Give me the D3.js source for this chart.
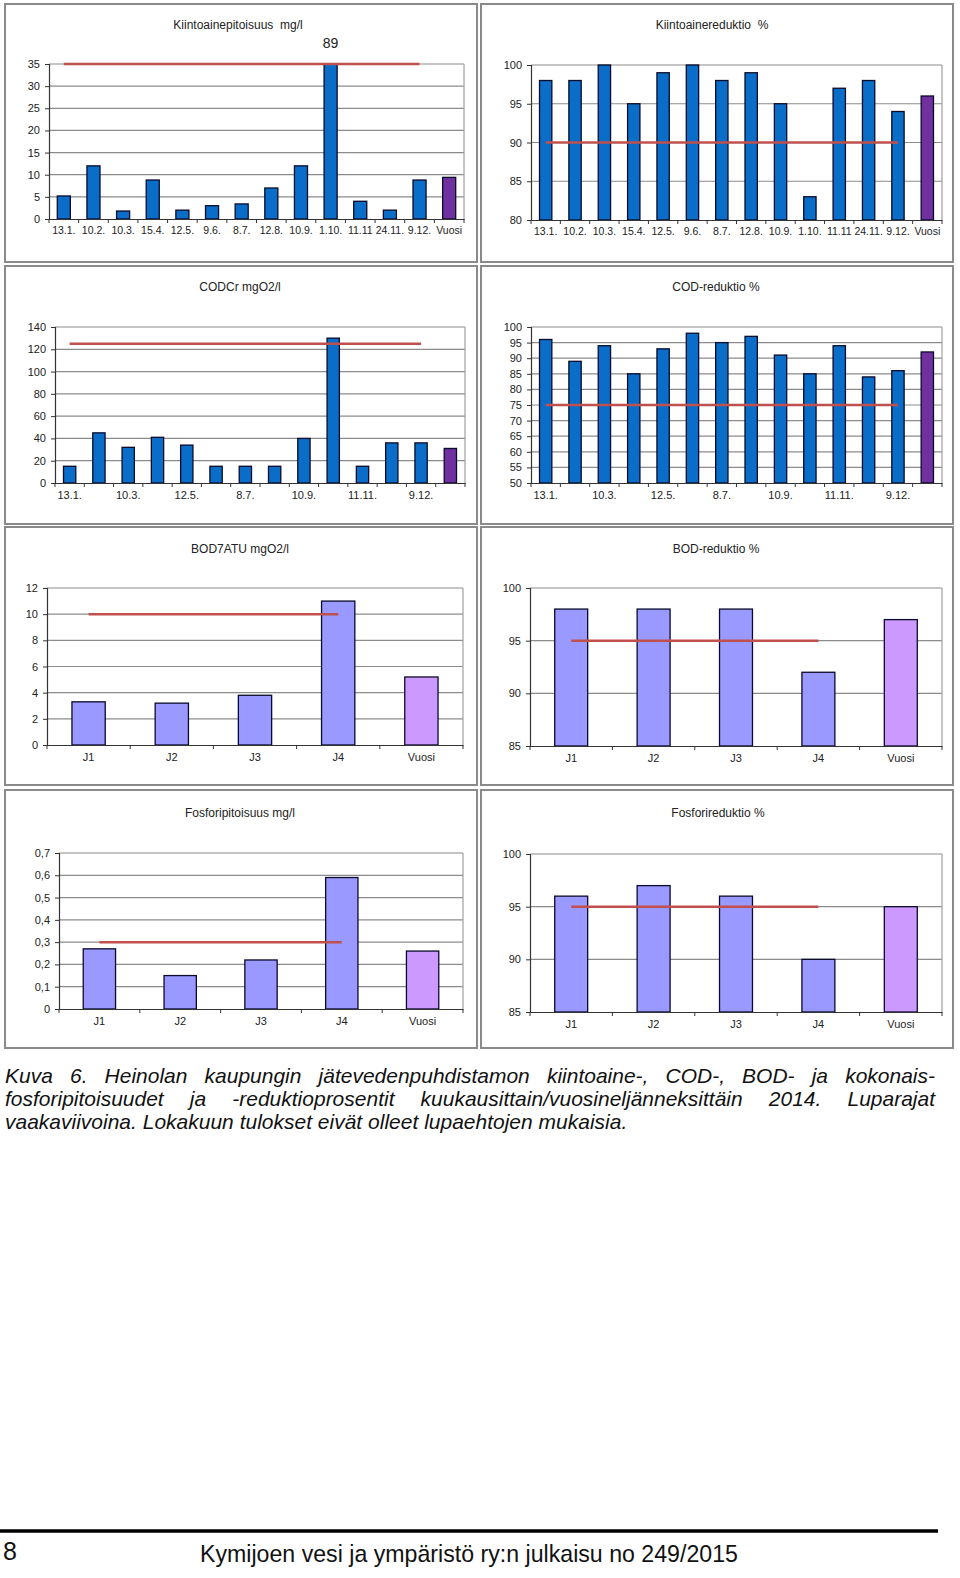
<!DOCTYPE html>
<html>
<head>
<meta charset="utf-8">
<script src="https://cdn.jsdelivr.net/npm/d3@7"></script>
<style>
  html, body { margin: 0; padding: 0; background: #fff; overflow: hidden; }
  svg { display: block; font-family: "Liberation Sans", Arial, sans-serif; }
</style>
</head>
<body>
<svg id="page" width="960" height="1578"></svg>
<script>
// categories
const monthCats = ["13.1.", "10.2.", "10.3.", "15.4.", "12.5.", "9.6.", "8.7.", "12.8.", "10.9.", "1.10.", "11.11", "24.11.", "9.12.", "Vuosi"];
const codLabels = ["13.1.", "", "10.3.", "", "12.5.", "", "8.7.", "", "10.9.", "", "11.11.", "", "9.12.", ""];
const quarterCats = ["J1", "J2", "J3", "J4", "Vuosi"];

// values
const kiintoaine = [5.2, 12, 1.8, 8.8, 2, 3, 3.4, 7, 12, 89, 4, 2, 8.8, 9.4];
const kiintoaineRed = [98, 98, 100, 95, 99, 100, 98, 99, 95, 83, 97, 98, 94, 96];
const codcr = [15, 45, 32, 41, 34, 15, 15, 15, 40, 130, 15, 36, 36, 31];
const codRed = [96, 89, 94, 85, 93, 98, 95, 97, 91, 85, 94, 84, 86, 92];
const bod = [3.3, 3.2, 3.8, 11, 5.2];
const bodRed = [98, 98, 98, 92, 97];
const fosfori = [0.27, 0.15, 0.22, 0.59, 0.26];
const fosforiRed = [96, 97, 96, 90, 95];

// permit limits (horizontal lines)
const limits = { kiintoaine: 35, kiintoaineRed: 90, codcr: 125, codRed: 75, bod: 10, bodRed: 95, fosfori: 0.3, fosforiRed: 95 };

// tick values
const ticksKiinto = d3.range(0, 36, 5);
const ticksKiintoRed = [80, 85, 90, 95, 100];
const ticksCod = d3.range(0, 141, 20);
const ticksCodRed = d3.range(50, 101, 5);
const ticksBod = d3.range(0, 13, 2);
const ticksRed85 = [85, 90, 95, 100];
const ticksFosfori = [0, 0.1, 0.2, 0.3, 0.4, 0.5, 0.6, 0.7];

const svg = d3.select("#page");
const fmtComma = d => d === 0 ? "0" : d3.format(".1f")(d).replace(".", ",");

function panel(p) {
  // frame
  svg.append("rect")
    .attr("x", p.frame[0]).attr("y", p.frame[1])
    .attr("width", p.frame[2]).attr("height", p.frame[3])
    .attr("fill", "#fff").attr("stroke", "#8a8a8a").attr("stroke-width", 2);

  svg.append("text")
    .attr("x", p.titleX).attr("y", p.titleY)
    .attr("text-anchor", "middle").attr("dominant-baseline", "central")
    .attr("font-size", 12).attr("fill", "#222")
    .attr("xml:space", "preserve")
    .text(p.title);

  const g = svg.append("g").attr("transform", `translate(${p.left}, ${p.top})`);
  const w = p.right - p.left;
  const h = p.bottom - p.top;

  const x = d3.scaleBand().domain(p.cats).range([0, w]).padding(0);
  const y = d3.scaleLinear().domain(p.domain).range([h, 0]).clamp(true);

  // grid
  g.selectAll("line.grid").data(p.ticks.slice(1)).enter().append("line")
    .attr("class", "grid")
    .attr("x1", 0).attr("x2", w)
    .attr("y1", d => y(d)).attr("y2", d => y(d))
    .attr("stroke", "#8c8c8c").attr("stroke-width", 1.2);
  g.append("line").attr("x1", w).attr("x2", w).attr("y1", 0).attr("y2", h)
    .attr("stroke", "#a0a0a0").attr("stroke-width", 1.2);

  // bars
  const bw = x.bandwidth() * p.barRatio;
  g.selectAll("rect.bar").data(p.values).enter().append("rect")
    .attr("class", "bar")
    .attr("x", (d, i) => x(p.cats[i]) + (x.bandwidth() - bw) / 2)
    .attr("y", d => y(d))
    .attr("width", bw)
    .attr("height", d => h - y(d))
    .attr("fill", (d, i) => i === p.values.length - 1 ? p.yearColor : p.color)
    .attr("stroke", "#0a0a2a").attr("stroke-width", 1.3);

  // limit line from first to second-to-last category
  const cFirst = p.cats[0], cLast = p.cats[p.cats.length - 2];
  g.append("line")
    .attr("x1", x(cFirst) + x.bandwidth() / 2)
    .attr("x2", x(cLast) + x.bandwidth() / 2)
    .attr("y1", y(p.limit)).attr("y2", y(p.limit))
    .attr("stroke", "#c0504d").attr("stroke-width", 2.5);

  // y axis
  const ya = g.append("g")
    .call(d3.axisLeft(y).tickValues(p.ticks).tickSize(4).tickPadding(5).tickFormat(p.fmt || (d => d)));
  ya.select(".domain").attr("stroke", "#333").attr("stroke-width", 1.2);
  ya.selectAll(".tick line").attr("stroke", "#333");
  ya.selectAll("text").attr("font-size", 11).attr("fill", "#222").attr("font-family", "Liberation Sans, Arial, sans-serif");

  // x axis
  const xa = g.append("g").attr("transform", `translate(0, ${h})`)
    .call(d3.axisBottom(x).tickSize(0).tickPadding(p.xPad || 8).tickFormat((d, i) => p.labels[i]));
  xa.select(".domain").attr("stroke", "#333").attr("stroke-width", 1.2);
  xa.selectAll("text").attr("font-size", p.xFont || 11).attr("fill", "#222").attr("font-family", "Liberation Sans, Arial, sans-serif");
  const bounds = p.cats.map(c => x(c)).concat([w]);
  xa.selectAll("line.tk").data(bounds).enter().append("line")
    .attr("class", "tk")
    .attr("x1", d => d).attr("x2", d => d).attr("y1", 0).attr("y2", 4)
    .attr("stroke", "#333");

  if (p.overLabel) {
    g.append("text")
      .attr("x", x(p.overLabel.cat) + x.bandwidth() / 2)
      .attr("y", -21)
      .attr("text-anchor", "middle").attr("dominant-baseline", "central")
      .attr("font-size", 14).attr("fill", "#222")
      .text(p.overLabel.text);
  }
}

const blue = "#0a6ec8", purple = "#7030a0", lilac = "#9999ff", pink = "#cc99ff";

panel({ frame: [5, 4, 472, 258], title: "Kiintoainepitoisuus  mg/l", titleX: 238, titleY: 25,
  left: 49, right: 464, top: 64, bottom: 219, cats: monthCats, labels: monthCats, values: kiintoaine,
  domain: [0, 35], ticks: ticksKiinto, limit: limits.kiintoaine, color: blue, yearColor: purple, barRatio: 0.44,
  xFont: 10.5, overLabel: { cat: "1.10.", text: "89" } });

panel({ frame: [481, 4, 472, 258], title: "Kiintoainereduktio  %", titleX: 712, titleY: 25,
  left: 531, right: 942, top: 65, bottom: 220, cats: monthCats, labels: monthCats, values: kiintoaineRed,
  domain: [80, 100], ticks: ticksKiintoRed, limit: limits.kiintoaineRed, color: blue, yearColor: purple, barRatio: 0.42,
  xFont: 10.5 });

panel({ frame: [5, 266, 472, 258], title: "CODCr mgO2/l", titleX: 240, titleY: 287,
  left: 55, right: 465, top: 327, bottom: 483, cats: monthCats, labels: codLabels, values: codcr,
  domain: [0, 140], ticks: ticksCod, limit: limits.codcr, color: blue, yearColor: purple, barRatio: 0.42 });

panel({ frame: [481, 266, 472, 258], title: "COD-reduktio %", titleX: 716, titleY: 287,
  left: 531, right: 942, top: 327, bottom: 483, cats: monthCats, labels: codLabels, values: codRed,
  domain: [50, 100], ticks: ticksCodRed, limit: limits.codRed, color: blue, yearColor: purple, barRatio: 0.42 });

panel({ frame: [5, 527, 472, 258], title: "BOD7ATU mgO2/l", titleX: 240, titleY: 549,
  left: 47, right: 463, top: 588, bottom: 745, cats: quarterCats, labels: quarterCats, values: bod,
  domain: [0, 12], ticks: ticksBod, limit: limits.bod, color: lilac, yearColor: pink, barRatio: 0.4 });

panel({ frame: [481, 527, 472, 258], title: "BOD-reduktio %", titleX: 716, titleY: 549,
  left: 530, right: 942, top: 588, bottom: 746, cats: quarterCats, labels: quarterCats, values: bodRed,
  domain: [85, 100], ticks: ticksRed85, limit: limits.bodRed, color: lilac, yearColor: pink, barRatio: 0.4 });

panel({ frame: [5, 790, 472, 258], title: "Fosforipitoisuus mg/l", titleX: 240, titleY: 813,
  left: 59, right: 463, top: 853, bottom: 1009, cats: quarterCats, labels: quarterCats, values: fosfori,
  domain: [0, 0.7], ticks: ticksFosfori, fmt: fmtComma, limit: limits.fosfori, color: lilac, yearColor: pink, barRatio: 0.4 });

panel({ frame: [481, 790, 472, 258], title: "Fosforireduktio %", titleX: 718, titleY: 813,
  left: 530, right: 942, top: 854, bottom: 1012, cats: quarterCats, labels: quarterCats, values: fosforiRed,
  domain: [85, 100], ticks: ticksRed85, limit: limits.fosforiRed, color: lilac, yearColor: pink, barRatio: 0.4 });

// caption, justified
const captionLines = [
  "Kuva 6. Heinolan kaupungin jätevedenpuhdistamon kiintoaine-, COD-, BOD- ja kokonais-",
  "fosforipitoisuudet ja -reduktioprosentit kuukausittain/vuosineljänneksittäin 2014. Luparajat",
  "vaakaviivoina. Lokakuun tulokset eivät olleet lupaehtojen mukaisia."
];
const capX = 5, capW = 930, capSize = 20;
const probe = svg.append("text").attr("font-size", capSize).attr("font-style", "italic").text(captionLines[2]);
const capScale = 622 / probe.node().getComputedTextLength();
probe.remove();

captionLines.forEach((line, li) => {
  const yy = 1083 + li * 23;
  const lg = svg.append("g").attr("transform", `translate(${capX}, ${yy}) scale(${capScale}, 1)`);
  const words = line.split(" ");
  const t = lg.selectAll("text").data(words).enter().append("text")
    .attr("font-size", capSize).attr("font-style", "italic").attr("fill", "#111")
    .text(d => d);
  const widths = t.nodes().map(n => n.getComputedTextLength());
  const total = d3.sum(widths);
  const avail = capW / capScale;
  const last = li === captionLines.length - 1;
  const gap = last ? capSize * 0.28 : (avail - total) / (words.length - 1);
  let cx = 0;
  t.attr("x", (d, i) => { const v = cx; cx += widths[i] + gap; return v; });
});

// footer
svg.append("line").attr("x1", 0).attr("x2", 938).attr("y1", 1531).attr("y2", 1531)
  .attr("stroke", "#000").attr("stroke-width", 3.5);
svg.append("text").attr("x", 3).attr("y", 1560).attr("font-size", 25).attr("fill", "#111").text("8");
const foot = svg.append("text").attr("font-size", 24).attr("fill", "#111")
  .text("Kymijoen vesi ja ympäristö ry:n julkaisu no 249/2015");
const footScale = 538 / foot.node().getComputedTextLength();
foot.attr("transform", `translate(200, 1562) scale(${footScale}, 1)`);
</script>
</body>
</html>
